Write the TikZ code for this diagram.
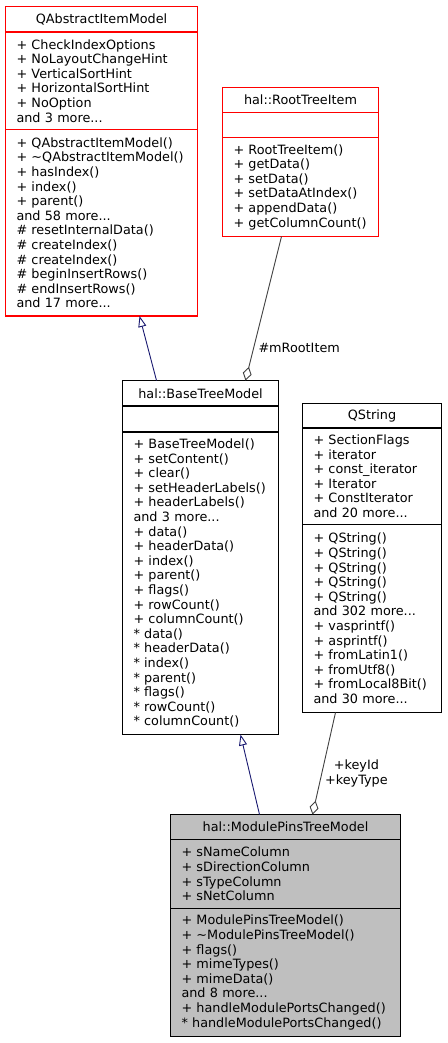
\documentclass[tikz,border=0pt]{standalone}
\usepackage{fontspec}
\setmainfont{DejaVu Sans}
\usetikzlibrary{positioning,arrows.meta}

\definecolor{inheritblue}{HTML}{191970}
\definecolor{usegray}{HTML}{404040}
\definecolor{currentgray}{HTML}{BFBFBF}

\tikzstyle{classhead} = [
    rectangle,
    anchor=north west,
    minimum height=25pt,
    inner xsep=11pt,
    inner ysep=0pt,
    outer sep=0pt,
    align=center,
    draw=black,
    fill=white,
    line width=1.2pt,
    font=\fontsize{12.8pt}{14.6pt}\selectfont,
]
\tikzstyle{members} = [
    rectangle,
    anchor=north,
    inner xsep=11pt,
    inner ysep=0pt,
    outer sep=0pt,
    align=left,
    draw=black,
    fill=white,
    line width=1.2pt,
    font=\fontsize{12.8pt}{14.6pt}\selectfont,
]
\tikzstyle{inherit} = [
    line width=0.9pt,
    draw=inheritblue,
    -{Triangle[open, length=11pt, width=8pt]}
]
\tikzstyle{usage} = [
    line width=0.9pt,
    draw=usegray,
    -{Diamond[open, length=14pt, width=9pt]}
]
\tikzstyle{edgelabel} = [
    inner sep=1pt,
    align=center,
    font=\fontsize{12.8pt}{14.6pt}\selectfont,
]

\begin{document}
\begin{tikzpicture}[x=1pt, y=-1pt]
        %%\draw[step=50,gray,very thin] (0,0) grid (447,1043);
        \useasboundingbox (0,0) rectangle (447,1043);
        % QAbstractItemModel
        \node (model) [classhead, draw=red, text width=170pt, minimum height=25.5pt] at (5.5,6.5) {QAbstractItemModel};
        \node (modelAttr) [members, draw=red, text width=170pt, minimum height=97.5pt, below=0pt of model] {+ CheckIndexOptions\\+ NoLayoutChangeHint\\+ VerticalSortHint\\+ HorizontalSortHint\\+ NoOption\\and 3 more...};
        \node (modelOps) [members, draw=red, text width=170pt, minimum height=186.5pt, below=0pt of modelAttr] {+ QAbstractItemModel()\\+ \textasciitilde QAbstractItemModel()\\+ hasIndex()\\+ index()\\+ parent()\\and 58 more...\\\# resetInternalData()\\\# createIndex()\\\# createIndex()\\\# beginInsertRows()\\\# endInsertRows()\\and 17 more...};
        % hal::RootTreeItem
        \node (root) [classhead, draw=red, text width=134pt] at (222.5,87.5) {hal::RootTreeItem};
        \node (rootAttr) [members, draw=red, text width=134pt, minimum height=25pt, below=0pt of root] {};
        \node (rootOps) [members, draw=red, text width=134pt, minimum height=99pt, below=0pt of rootAttr] {+ RootTreeItem()\\+ getData()\\+ setData()\\+ setDataAtIndex()\\+ appendData()\\+ getColumnCount()};
        % hal::BaseTreeModel
        \node (base) [classhead, text width=134pt, minimum height=25.5pt] at (122.5,380.5) {hal::BaseTreeModel};
        \node (baseAttr) [members, text width=134pt, minimum height=26pt, below=0pt of base] {};
        \node (baseOps) [members, text width=134pt, minimum height=302.5pt, below=0pt of baseAttr] {+ BaseTreeModel()\\+ setContent()\\+ clear()\\+ setHeaderLabels()\\+ headerLabels()\\and 3 more...\\+ data()\\+ headerData()\\+ index()\\+ parent()\\+ flags()\\+ rowCount()\\+ columnCount()\\{*} data()\\{*} headerData()\\{*} index()\\{*} parent()\\{*} flags()\\{*} rowCount()\\{*} columnCount()};
        % QString
        \node (qstring) [classhead, text width=117pt, minimum height=24.5pt] at (302.5,403.5) {QString};
        \node (qstringAttr) [members, text width=117pt, minimum height=96.5pt, below=0pt of qstring] {+ SectionFlags\\+ iterator\\+ const\_iterator\\+ Iterator\\+ ConstIterator\\and 20 more...};
        \node (qstringOps) [members, text width=117pt, minimum height=188pt, below=0pt of qstringAttr] {+ QString()\\+ QString()\\+ QString()\\+ QString()\\+ QString()\\and 302 more...\\+ vasprintf()\\+ asprintf()\\+ fromLatin1()\\+ fromUtf8()\\+ fromLocal8Bit()\\and 30 more...};
        % hal::ModulePinsTreeModel
        \node (pins) [classhead, fill=currentgray, text width=208pt] at (170.5,814.5) {hal::ModulePinsTreeModel};
        \node (pinsAttr) [members, fill=currentgray, text width=208pt, minimum height=69pt, below=0pt of pins] {+ sNameColumn\\+ sDirectionColumn\\+ sTypeColumn\\+ sNetColumn};
        \node (pinsOps) [members, fill=currentgray, text width=208pt, minimum height=128pt, below=0pt of pinsAttr] {+ ModulePinsTreeModel()\\+ \textasciitilde ModulePinsTreeModel()\\+ flags()\\+ mimeTypes()\\+ mimeData()\\and 8 more...\\+ handleModulePortsChanged()\\{*} handleModulePortsChanged()};
        % relations
        \draw [inherit] ([xshift=34pt]base.north west) -- ([xshift=134pt]modelOps.south west);
        \draw [usage] ([xshift=59pt]rootOps.south west) -- node[edgelabel, pos=0.776, anchor=west, xshift=3.5pt] {\#mRootItem} ([xshift=123pt]base.north west);
        \draw [inherit] ([xshift=89pt]pins.north west) -- ([xshift=118pt]baseOps.south west);
        \draw [usage] ([xshift=33pt]qstringOps.south west) -- node[edgelabel, pos=0.6, anchor=west, xshift=2pt] {+keyId\\+keyType} ([xshift=142pt]pins.north west);
    \end{tikzpicture}
\end{document}
